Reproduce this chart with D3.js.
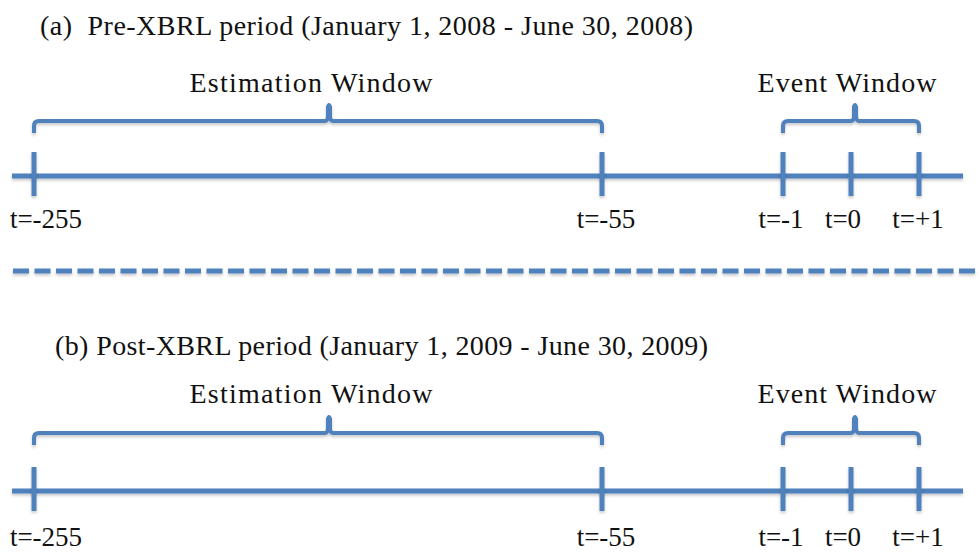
<!DOCTYPE html>
<html>
<head>
<meta charset="utf-8">
<script src="https://cdn.jsdelivr.net/npm/d3@7"></script>
<style>
  html, body { margin: 0; padding: 0; background: #fff; }
  svg { display: block; }
  text { font-family: 'Liberation Serif', 'Times New Roman', serif; fill: #111; white-space: pre; }
</style>
</head>
<body>
<div id="chart"></div>
<script>
// data
const panelTitles = [
  '(a)  Pre-XBRL period (January 1, 2008 - June 30, 2008)',
  '(b) Post-XBRL period (January 1, 2009 - June 30, 2009)'
]
const tickDays = [-255, -55, -1, 0, 1]
const tickLabels = ['t=-255', 't=-55', 't=-1', 't=0', 't=+1']
const windowNames = ['Estimation Window', 'Event Window']
const windowStarts = [-255, -1]
const windowEnds = [-55, 1]

const W = 980
const H = 553
const BLUE = '#4f81bd'
const LINE_W = 5

// layout per panel
const titleX = [40, 55]
const titleY = [35, 355]
const windowLabelY = [92, 403]
const braceY = [121, 433]
const axisY = [176, 491]
const tickLabelY = [228, 546]
const windowLabelX = [311, 847]
const windowLabelLen = [243, 179]
const braceNudge = [11, 4]
const labelShift = [12, 4, -2, -8, -1]

// schematic (non-linear) day scale
const x = d3.scaleLinear()
  .domain(tickDays)
  .range([34, 602, 783, 851, 919])

const svg = d3.select('#chart')
  .append('svg')
  .attr('width', W)
  .attr('height', H)

// soft office-style shadow; user space so thin lines keep a region
const defs = svg.append('defs')
defs.append('filter')
  .attr('id', 'shadow')
  .attr('filterUnits', 'userSpaceOnUse')
  .attr('x', 0).attr('y', 0)
  .attr('width', W).attr('height', H)
  .append('feDropShadow')
  .attr('dx', 0).attr('dy', 2)
  .attr('stdDeviation', 1.5)
  .attr('flood-color', '#000')
  .attr('flood-opacity', 0.22)

function bracePath (xa, xb, xm, y0) {
  return `M${xa},${y0 + 12} L${xa},${y0 + 5} Q${xa},${y0} ${xa + 5},${y0}` +
    ` L${xm - 4},${y0} Q${xm - 1},${y0} ${xm - 1},${y0 - 6} L${xm - 1},${y0 - 14}` +
    ` Q${xm},${y0 - 18} ${xm + 1},${y0 - 14} L${xm + 1},${y0 - 6} Q${xm + 1},${y0} ${xm + 4},${y0}` +
    ` L${xb - 5},${y0} Q${xb},${y0} ${xb},${y0 + 5} L${xb},${y0 + 12}`
}

panelTitles.forEach((title, p) => {
  const g = svg.append('g').classed('panel', true)

  g.append('text')
    .attr('x', titleX[p])
    .attr('y', titleY[p])
    .attr('font-size', 28)
    .attr('textLength', 653)
    .attr('lengthAdjust', 'spacing')
    .text(title)

  // axis line
  g.append('line')
    .attr('x1', 12)
    .attr('x2', 963)
    .attr('y1', axisY[p])
    .attr('y2', axisY[p])
    .attr('stroke', BLUE)
    .attr('stroke-width', LINE_W)
    .attr('filter', 'url(#shadow)')

  // ticks
  g.selectAll('line.tick')
    .data(tickDays)
    .enter()
    .append('line')
    .classed('tick', true)
    .attr('x1', d => x(d))
    .attr('x2', d => x(d))
    .attr('y1', axisY[p] - 24)
    .attr('y2', axisY[p] + 20)
    .attr('stroke', BLUE)
    .attr('stroke-width', LINE_W)
    .attr('filter', 'url(#shadow)')

  g.selectAll('text.tick-label')
    .data(tickLabels)
    .enter()
    .append('text')
    .classed('tick-label', true)
    .attr('x', (d, i) => x(tickDays[i]) + labelShift[i])
    .attr('y', tickLabelY[p])
    .attr('text-anchor', 'middle')
    .attr('font-size', 27)
    .text(d => d)

  // windows: braces + labels
  windowNames.forEach((name, i) => {
    const xa = x(windowStarts[i])
    const xb = x(windowEnds[i])
    const xm = (xa + xb) / 2 + braceNudge[i]
    g.append('path')
      .attr('d', bracePath(xa, xb, xm, braceY[p]))
      .attr('fill', 'none')
      .attr('stroke', BLUE)
      .attr('stroke-width', 4)
      .attr('stroke-linejoin', 'round')
      .attr('filter', 'url(#shadow)')

    g.append('text')
      .attr('x', windowLabelX[i])
      .attr('y', windowLabelY[p])
      .attr('text-anchor', 'middle')
      .attr('font-size', 28)
      .attr('textLength', windowLabelLen[i])
      .attr('lengthAdjust', 'spacing')
      .text(name)
  })
})

// dashed separator
svg.append('line')
  .attr('x1', 13)
  .attr('x2', W)
  .attr('y1', 271)
  .attr('y2', 271)
  .attr('stroke', BLUE)
  .attr('stroke-width', LINE_W)
  .attr('stroke-dasharray', '16 5.5')
  .attr('filter', 'url(#shadow)')
</script>
</body>
</html>
